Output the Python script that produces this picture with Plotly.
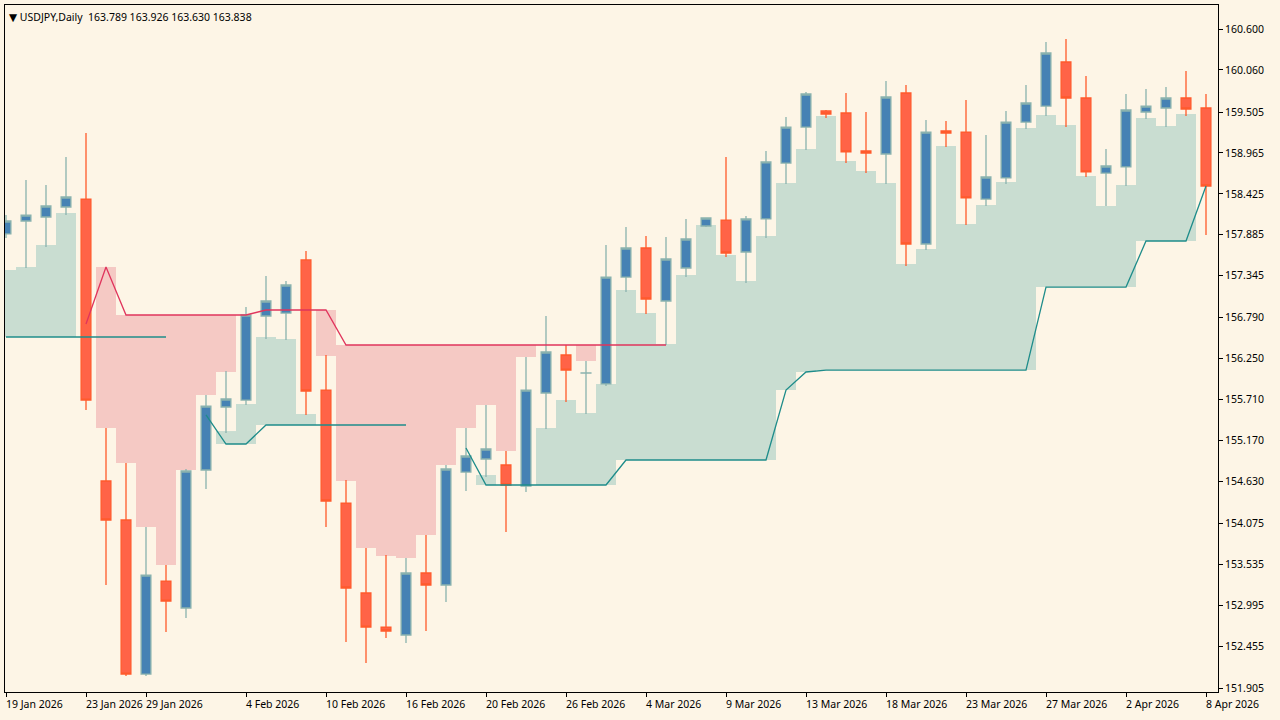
import plotly.graph_objects as go

opens = [157.896,158.067,158.120,158.252,158.357,154.637,154.122,152.090,153.317,152.961,
         154.782,155.613,155.705,156.814,156.853,157.553,155.837,154.346,153.159,152.710,
         152.605,153.423,153.265,154.755,154.927,154.848,154.571,155.798,156.299,156.062,
         155.917,157.328,157.711,157.012,157.447,158.001,158.080,157.658,158.094,158.832,
         159.307,159.519,159.492,158.991,158.951,159.756,157.764,159.255,159.241,158.357,
         158.635,159.373,159.584,160.165,159.690,158.700,158.780,159.505,159.558,159.690,159.558]
highs = [158.146,158.608,158.542,158.912,159.228,155.336,154.874,154.030,153.528,154.795,
         155.771,156.088,156.932,157.342,157.276,157.671,156.299,154.650,153.753,153.660,
         153.621,153.924,154.848,155.336,155.639,155.033,156.273,156.814,156.431,156.220,
         157.751,157.988,157.869,157.856,158.094,158.107,158.912,158.133,158.991,159.439,
         159.769,159.532,159.756,159.505,159.914,159.862,159.400,159.387,159.664,159.202,
         159.519,159.862,160.429,160.468,159.980,159.017,159.743,159.809,159.835,160.046,159.743]
lows = [157.843,157.447,157.724,158.146,155.573,153.265,152.064,152.064,152.644,152.829,
        154.531,155.270,155.639,156.510,156.497,155.508,154.030,152.513,152.235,152.565,
        152.499,152.658,153.040,154.505,154.690,153.964,154.492,155.323,155.679,155.521,
        155.890,157.130,156.840,156.431,157.328,157.988,157.592,157.249,157.843,158.555,
        159.004,159.426,158.832,158.700,158.555,157.473,157.685,159.044,158.014,158.265,
        158.555,159.281,159.453,159.307,158.648,158.265,158.529,159.413,159.307,159.453,157.882]
closes = [158.067,158.146,158.265,158.384,155.705,154.122,152.090,153.396,153.053,154.769,
          155.626,155.719,156.827,157.012,157.223,155.824,154.373,153.225,152.710,152.658,
          153.423,153.265,154.795,154.967,155.059,154.584,155.837,156.339,156.101,156.063,
          157.328,157.711,157.038,157.566,157.830,158.107,157.645,158.094,158.846,159.307,
          159.743,159.479,158.978,158.964,159.703,157.764,159.241,159.228,158.371,158.648,
          159.373,159.624,160.284,159.690,158.714,158.793,159.532,159.584,159.690,159.545,158.529]

N = len(opens)
idx = list(range(N))

# indicator: upper (red) trail and lower (teal) trail
red_line = [None]*4 + [156.708, 157.460] + [156.827]*7 + [156.893]*4 + [156.431]*17 + [None]*(N-34)
teal_a = [156.537]*9 + [None]*(N-9)
teal_b = [None]*10 + [155.508, 155.125, 155.125] + [155.376]*8 + [None]*(N-21)
teal_c = ([None]*23 + [155.072] + [154.584]*7 + [154.914]*8 + [155.837, 156.075] +
          [156.101]*11 + [157.196]*5 + [157.803]*3 + [158.529])

# pink zones: bottom levels (top = red trail)
pink_bottom = {5:155.336,6:154.874,7:154.030,8:153.528,9:154.782,10:155.771,11:156.075,
               16:156.286,17:154.637,18:153.753,19:153.647,20:153.621,21:153.924,22:154.848,
               23:155.336,24:155.639,25:155.033,26:156.273,29:156.220}
# green zones: top levels (bottom = teal trail)
green_top = {0:157.421,1:157.460,2:157.751,3:158.173,11:155.296,12:155.653,13:156.537,14:156.510,
             15:155.521,24:154.716,27:155.336,28:155.705,29:155.534,30:155.917,31:157.157,
             32:156.853,33:156.444,34:157.355,35:158.014,36:157.619,37:157.276,38:157.869,
             39:158.569,40:159.017,41:159.453,42:158.859,43:158.727,44:158.569,45:157.500,
             46:157.698,47:159.057,48:158.028,49:158.278,50:158.582,51:159.294,52:159.466,
             53:159.334,54:158.661,55:158.265,56:158.542,57:159.426,58:159.321,59:159.479}
green_bottom_levels = {**{i:156.537 for i in range(4)}, 11:155.125, 12:155.125, 13:155.376,
                       14:155.376, 15:155.376}
for i in range(23, N):
    if teal_c[i] is not None:
        green_bottom_levels.setdefault(i, teal_c[i])

tick_idx = [0,4,7,12,16,20,24,28,32,36,40,44,48,52,56,60]
tick_text = ["19 Jan 2026","23 Jan 2026","29 Jan 2026","4 Feb 2026","10 Feb 2026","16 Feb 2026",
             "20 Feb 2026","26 Feb 2026","4 Mar 2026","9 Mar 2026","13 Mar 2026","18 Mar 2026",
             "23 Mar 2026","27 Mar 2026","2 Apr 2026","8 Apr 2026"]
y_ticks = [160.600,160.060,159.505,158.965,158.425,157.885,157.345,156.790,156.250,155.710,
           155.170,154.630,154.075,153.535,152.995,152.455,151.905]

fig = go.Figure()
gx = sorted(green_top)
fig.add_trace(go.Bar(x=gx, y=[green_top[i]-green_bottom_levels[i] for i in gx],
                     base=[green_bottom_levels[i] for i in gx], width=1,
                     marker=dict(color="#C9DDD1", line=dict(width=0)), hoverinfo="skip"))
px_ = sorted(pink_bottom)
fig.add_trace(go.Bar(x=px_, y=[red_line[i]-pink_bottom[i] for i in px_],
                     base=[pink_bottom[i] for i in px_], width=1,
                     marker=dict(color="#F5C9C4", line=dict(width=0)), hoverinfo="skip"))
for t in (teal_a, teal_b, teal_c):
    fig.add_trace(go.Scatter(x=idx, y=t, mode="lines", line=dict(color="#1E8C8A", width=1.3),
                             connectgaps=False, hoverinfo="skip"))
fig.add_trace(go.Scatter(x=idx, y=red_line, mode="lines", line=dict(color="#E0345C", width=1.3),
                         hoverinfo="skip"))
fig.add_trace(go.Candlestick(x=idx, open=opens, high=highs, low=lows, close=closes,
                             whiskerwidth=0,
                             increasing=dict(fillcolor="#4682B4", line=dict(color="#8AB2AE", width=1.3)),
                             decreasing=dict(fillcolor="#FF6347", line=dict(color="#FF5A2C", width=1.3))))

p_top = 160.917
p_bot = 151.853
fig.update_layout(
    width=1280, height=720, showlegend=False, barmode="overlay",
    paper_bgcolor="#FDF5E6", plot_bgcolor="#FDF5E6",
    margin=dict(l=5, r=62, t=5, b=28, autoexpand=False),
    font=dict(family="Noto Sans, DejaVu Sans", size=10.5, color="#000000"),
    xaxis=dict(range=[-0.05, 60.6], showgrid=False, zeroline=False, rangeslider=dict(visible=False),
               tickvals=tick_idx, ticktext=[""]*len(tick_idx), ticks="outside", ticklen=4,
               tickcolor="#000", showline=True, linecolor="#000", mirror=True, linewidth=1,
               automargin=False),
    yaxis=dict(range=[p_bot, p_top], side="right", showgrid=False, zeroline=False,
               tickvals=y_ticks, ticktext=[f"{v:.3f}" for v in y_ticks], ticks="outside",
               ticklen=4, tickcolor="#000", showline=True, linecolor="#000", mirror=True, linewidth=1,
               tickfont=dict(size=10.5), automargin=False),
)
for i, t in zip(tick_idx, tick_text):
    fig.add_annotation(x=i, y=0, xref="x", yref="paper", text=t, showarrow=False,
                       xanchor="left", yanchor="top", yshift=-3, xshift=-2, font=dict(size=10.5))
fig.add_annotation(x=0.002, y=0.995, xref="paper", yref="paper",
                   text="▼ USDJPY,Daily  163.789 163.926 163.630 163.838", showarrow=False,
                   xanchor="left", yanchor="top", font=dict(size=10.5))
fig.write_html("out.html", config={"displayModeBar": False},
               post_script="document.body.style.margin='0';document.body.style.background='#FDF5E6';")
